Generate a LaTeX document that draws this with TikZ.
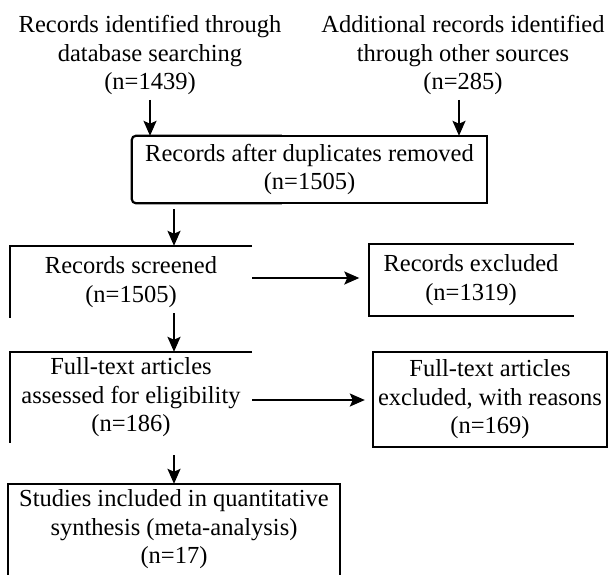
\documentclass[tikz,border=0pt]{standalone}
\usepackage{fontspec}
\setmainfont{Liberation Serif}
\usetikzlibrary{arrows.meta,calc}
\begin{document}
\begin{tikzpicture}[x=1pt,y=-1pt,
  txt/.style={font=\fontsize{24.5}{28.5}\selectfont, align=center, inner sep=0pt},
  ln/.style={line width=2.2pt},
  arr/.style={line width=2pt, -{Stealth[length=15pt,width=13pt,inset=3pt]}}]
\useasboundingbox (0,0) rectangle (610,574);
% texts / boxes
\node[txt] (t1) at (150,55) {Records identified through\\database searching\\(n=1439)};
\node[txt] (t2) at (463,55) {Additional records identified\\through other sources\\(n=285)};
\node[txt, minimum width=355pt, minimum height=67pt] (dup) at (309.5,169.5) {Records after duplicates removed\\(n=1505)};
\node[txt, minimum width=242pt, minimum height=72pt] (scr) at (131,282) {Records screened\\(n=1505)};
\node[txt, minimum width=201pt, minimum height=72pt] (exc) at (471,280) {Records excluded\\(n=1319)};
\node[txt, minimum width=242pt, minimum height=91pt] (ft) at (131,397.5) {Full-text articles\\assessed for eligibility\\(n=186)};
\node[txt, minimum width=234pt, minimum height=95pt] (ft2) at (490,399.5) {Full-text articles\\excluded, with reasons\\(n=169)};
\node[txt, minimum width=332pt, minimum height=91pt] (st) at (174,529.5) {Studies included in quantitative\\synthesis (meta-analysis)\\(n=17)};
% outlines
\draw[ln, rounded corners=4pt] ($(dup.north west)+(150,0)$) -- (dup.north west) -- (dup.south west) -- ($(dup.south west)+(150,0)$);
\draw[ln] ($(dup.north west)+(149,0)$) -- (dup.north east) -- (dup.south east) -- ($(dup.south west)+(149,0)$);
\draw[ln] (scr.north east) -- (scr.north west) -- (scr.south west);
\draw[ln] ($(exc.north east)+(2,0)$) -- ($(exc.north west)+(-1,0)$) -- ($(exc.south west)+(-1,0)$) -- ($(exc.south east)+(2,0)$);
\draw[ln] (ft.north east) -- (ft.north west) -- (ft.south west);
\draw[ln] (ft2.north west) rectangle (ft2.south east);
\draw[ln] (st.south west) -- (st.north west) -- (st.north east) -- (st.south east);
% connectors
\draw[arr] ([yshift=-5pt]t1.south) -- (t1.south |- dup.north);
\coordinate (a2) at ([xshift=-4pt,yshift=-5pt]t2.south);
\draw[arr] (a2) -- (a2 |- dup.north);
\draw[arr] ([yshift=-6pt]dup.south -| st.north) -- (scr.north -| st.north);
\draw[arr] ([yshift=5pt]scr.south -| st.north) -- (ft.north -| st.north);
\draw[arr] ([yshift=-12pt]ft.south -| st.north) -- (st.north);
\draw[arr] ([yshift=4pt]scr.east) -- ([yshift=4pt,xshift=-11pt]scr.east -| exc.west);
\draw[arr] ([yshift=-2.5pt]ft.east) -- ([yshift=-2.5pt,xshift=-8pt]ft.east -| ft2.west);
\end{tikzpicture}
\end{document}
